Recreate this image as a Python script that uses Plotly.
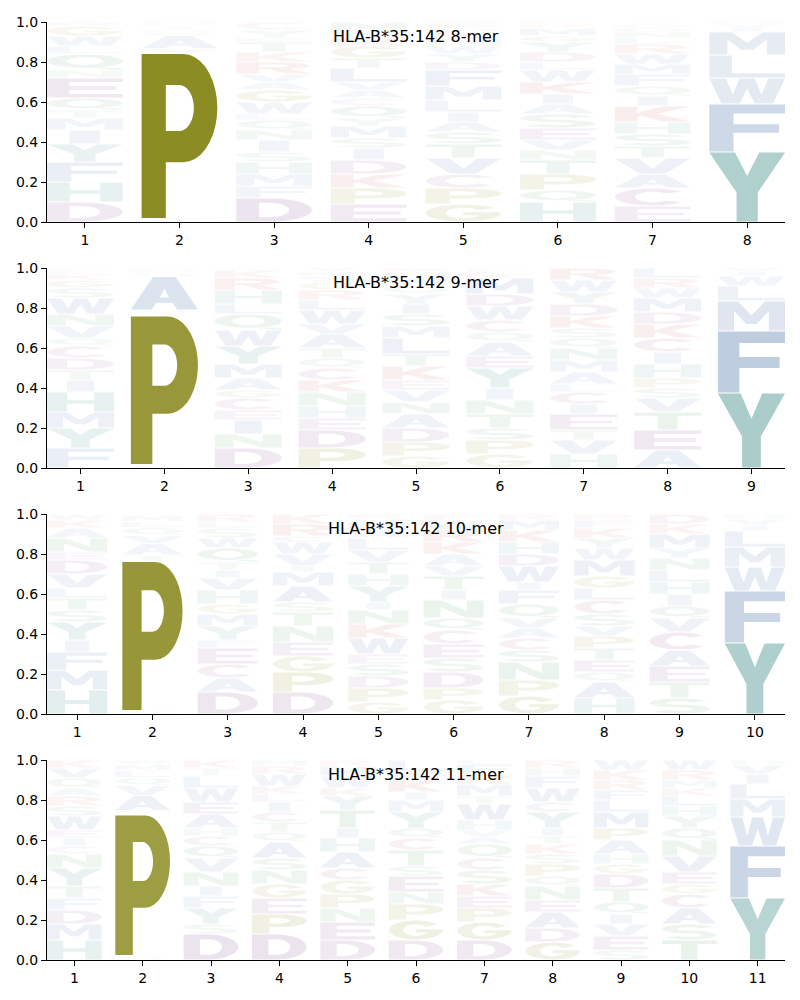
import math
import plotly.graph_objects as go

# ---------------- data (letters bottom -> top, with heights) ----------------
titles = ["HLA-B*35:142 8-mer", "HLA-B*35:142 9-mer", "HLA-B*35:142 10-mer", "HLA-B*35:142 11-mer"]

letters_8mer = ["DHFYIMTQENQLWGR", "ASPVAGSTLMK", "DFMHSINQLWGAVRKTEYC", "EPKDISMYQCAVLTGRWN",
                "GPCVTSAILMFDYWNKQRE", "HQPTNVESAIKWLDYGMRF", "ECAVTSHKIQFMWRLNDGY", "YFWLMIVH"]
heights_8mer = [
    [.10, .10, .10, .09, .07, .06, .04, .06, .10, .04, .08, .04, .05, .05, .02],
    [.01, .008, .825, .025, .065, .015, .015, .015, .01, .01, .002],
    [.12, .06, .06, .06, .05, .06, .05, .05, .03, .06, .06, .04, .04, .06, .05, .05, .02, .04, .04],
    [.09, .08, .07, .07, .06, .05, .06, .04, .06, .04, .04, .04, .07, .05, .06, .04, .03, .05],
    [.09, .08, .07, .08, .07, .06, .05, .05, .06, .07, .08, .04, .04, .04, .04, .03, .02, .02, .01],
    [.10, .06, .08, .07, .05, .05, .06, .07, .05, .05, .06, .06, .04, .05, .05, .03, .04, .02, .01],
    [.08, .09, .07, .08, .06, .06, .06, .08, .05, .05, .06, .05, .05, .05, .03, .03, .02, .02, .01],
    [.35, .24, .13, .115, .115, .025, .015, .01],
]

letters_9mer = ["FYMHITDCQVNWSGKLE", "SGPTVAQLMW", "DNIECGAMYWQLHRKT", "PDEHNKCQTAVWLRGSMY",
                "GPDANVEKTLMSIYQWHR", "GPSTNIYEAQCWDMKLR", "HVTEICLAMNQSKDYWR", "AETVSPHICKDMWRL",
                "YFMLWIV"]
heights_9mer = [
    [.10, .10, .08, .10, .06, .05, .06, .06, .04, .06, .06, .08, .05, .04, .03, .02, .01],
    [.01, .008, .742, .015, .015, .167, .015, .012, .01, .006],
    [.10, .07, .07, .05, .06, .04, .06, .07, .09, .08, .08, .05, .07, .06, .04, .01],
    [.10, .09, .06, .06, .07, .06, .06, .05, .05, .07, .05, .07, .05, .05, .04, .03, .02, .02],
    [.06, .07, .07, .07, .06, .06, .05, .07, .06, .08, .06, .06, .05, .05, .04, .04, .03, .02],
    [.07, .07, .06, .07, .07, .06, .10, .06, .07, .05, .06, .07, .06, .08, .02, .02, .01],
    [.07, .07, .05, .08, .05, .06, .04, .06, .06, .06, .05, .05, .06, .06, .06, .06, .06],
    [.09, .10, .09, .07, .05, .05, .07, .06, .07, .07, .06, .07, .05, .05, .05],
    [.375, .31, .15, .075, .05, .025, .015],
]

letters_10mer = ["HMFIYSTLVDENAKW", "SGPTAVQLMW", "DACEFYMGHVITQWSLR", "DPGENTSAMIVWCRK",
                 "GPDSEWKNIYHTVLAMQR", "GPDSECQNITVAKRWF", "GPNSCAVQFIWDHKMR", "HAQETPVSCLGMWYKFR",
                 "STEACVQIHLNYMKD", "YFWMLIVH"]
heights_10mer = [
    [.12, .10, .09, .06, .09, .06, .06, .05, .07, .07, .04, .07, .05, .04, .03],
    [.01, .007, .745, .033, .058, .04, .04, .03, .03, .007],
    [.11, .07, .07, .08, .04, .07, .06, .05, .07, .06, .04, .04, .07, .05, .05, .03, .04],
    [.11, .10, .08, .07, .08, .07, .05, .08, .07, .03, .06, .06, .03, .06, .05],
    [.06, .07, .06, .06, .05, .08, .07, .07, .04, .08, .06, .06, .06, .06, .04, .04, .02, .02],
    [.07, .06, .08, .07, .07, .07, .06, .09, .05, .07, .05, .06, .06, .06, .05, .03],
    [.09, .08, .09, .06, .06, .05, .05, .07, .07, .04, .08, .06, .06, .06, .05, .03],
    [.08, .08, .05, .06, .06, .06, .05, .06, .07, .06, .06, .08, .06, .05, .05, .04, .03],
    [.08, .08, .08, .08, .09, .07, .06, .06, .06, .06, .06, .05, .07, .05, .05],
    [.355, .26, .12, .10, .08, .03, .03, .025],
]

letters_11mer = ["HMDFTYNCIEWSRAQVK", "SGPTAVQLMW", "DSYFINVQCHAEWLTK", "DPEGNSAQTCILKWRM",
                 "DENPGCAHITYKWMR", "DGPNESTCQYMIKWL", "DGPEKSCQAVHWTMRFL", "GDAENQPSKTIYCWFHR",
                 "SEVIQTDGHAPMLFRKW", "TSACGEVNQYHLKMRW", "YFWMLIVH"]
heights_11mer = [
    [.10, .08, .07, .06, .06, .09, .07, .04, .04, .04, .07, .05, .05, .04, .05, .05, .04],
    [.012, .01, .703, .022, .075, .05, .04, .035, .03, .023],
    [.13, .05, .08, .06, .05, .07, .07, .06, .05, .04, .07, .06, .07, .06, .04, .04],
    [.13, .10, .08, .07, .07, .06, .08, .05, .05, .05, .05, .04, .04, .06, .04, .03],
    [.10, .09, .07, .07, .07, .06, .08, .07, .05, .09, .07, .04, .06, .05, .03],
    [.10, .10, .08, .06, .08, .05, .08, .06, .05, .08, .06, .04, .06, .04, .06],
    [.10, .09, .07, .06, .06, .07, .06, .07, .035, .035, .05, .08, .04, .06, .05, .05, .02],
    [.09, .07, .08, .06, .07, .05, .06, .05, .05, .04, .04, .08, .05, .07, .06, .04, .04],
    [.05, .07, .06, .05, .06, .07, .07, .05, .05, .07, .06, .08, .06, .05, .05, .05, .05],
    [.10, .08, .08, .07, .05, .06, .08, .08, .06, .06, .05, .05, .04, .04, .05, .05],
    [.31, .26, .145, .09, .075, .05, .045, .025],
]

panels = [(letters_8mer, heights_8mer), (letters_9mer, heights_9mer),
          (letters_10mer, heights_10mer), (letters_11mer, heights_11mer)]

# base colours of the residue groups
group_colors = {
    "AVILMFW": (66, 108, 166),
    "YH": (45, 131, 126),
    "PG": (124, 124, 6),
    "DE": (120, 60, 130),
    "C": (150, 70, 130),
    "NQST": (60, 150, 75),
    "KR": (200, 60, 60),
}


def base_color(ch):
    for k, v in group_colors.items():
        if ch in k:
            return v
    return (120, 120, 120)


# ---------------- glyph outlines in a unit box ----------------
def arc(cx, cy, rx, ry, a0, a1, n=18):
    return [(cx + rx * math.cos(math.radians(a0 + (a1 - a0) * i / n)),
             cy + ry * math.sin(math.radians(a0 + (a1 - a0) * i / n))) for i in range(n + 1)]


def glyph(ch):
    if ch == "A":
        return [[(0, 0), (0.33, 1), (0.67, 1), (1, 0), (0.69, 0), (0.62, 0.21), (0.38, 0.21), (0.31, 0)],
                [(0.43, 0.37), (0.57, 0.37), (0.5, 0.64)]]
    if ch == "C":
        return [arc(0.5, 0.5, 0.5, 0.5, 40, 320) + arc(0.5, 0.5, 0.23, 0.31, 320, 40)]
    if ch == "D":
        return [[(0, 0), (0, 1), (0.45, 1)] + arc(0.45, 0.5, 0.55, 0.5, 90, -90),
                [(0.3, 0.19), (0.3, 0.81), (0.45, 0.81)] + arc(0.45, 0.5, 0.25, 0.31, 90, -90)]
    if ch == "E":
        return [[(0, 0), (0, 1), (1, 1), (1, 0.81), (0.3, 0.81), (0.3, 0.59), (0.92, 0.59),
                 (0.92, 0.41), (0.3, 0.41), (0.3, 0.19), (1, 0.19), (1, 0)]]
    if ch == "F":
        return [[(0, 0), (0, 1), (1, 1), (1, 0.81), (0.32, 0.81), (0.32, 0.58), (0.92, 0.58),
                 (0.92, 0.4), (0.32, 0.4), (0.32, 0)]]
    if ch == "G":
        return [arc(0.5, 0.5, 0.5, 0.5, 35, 360) + [(1, 0.54), (0.5, 0.54), (0.5, 0.37), (0.72, 0.37)]
                + arc(0.5, 0.5, 0.23, 0.31, -27, -325)]
    if ch == "H":
        return [[(0, 0), (0, 1), (0.3, 1), (0.3, 0.59), (0.7, 0.59), (0.7, 1), (1, 1), (1, 0),
                 (0.7, 0), (0.7, 0.41), (0.3, 0.41), (0.3, 0)]]
    if ch == "I":
        return [[(0.3, 0), (0.3, 1), (0.7, 1), (0.7, 0)]]
    if ch == "K":
        return [[(0, 0), (0, 1), (0.3, 1), (0.3, 0.58), (0.64, 1), (1, 1), (0.56, 0.52), (1, 0),
                 (0.63, 0), (0.36, 0.38), (0.3, 0.32), (0.3, 0)]]
    if ch == "L":
        return [[(0, 0), (0, 1), (0.3, 1), (0.3, 0.19), (1, 0.19), (1, 0)]]
    if ch == "M":
        return [[(0, 0), (0, 1), (0.3, 1), (0.5, 0.52), (0.7, 1), (1, 1), (1, 0), (0.76, 0),
                 (0.76, 0.68), (0.58, 0.22), (0.42, 0.22), (0.24, 0.68), (0.24, 0)]]
    if ch == "N":
        return [[(0, 0), (0, 1), (0.3, 1), (0.72, 0.38), (0.72, 1), (1, 1), (1, 0), (0.7, 0),
                 (0.28, 0.62), (0.28, 0)]]
    if ch == "P":
        return [[(0, 0), (0, 1), (0.55, 1)] + arc(0.55, 0.67, 0.45, 0.33, 90, -90) + [(0.32, 0.34), (0.32, 0)],
                [(0.32, 0.53), (0.32, 0.81), (0.5, 0.81)] + arc(0.5, 0.67, 0.19, 0.14, 90, -90)]
    if ch == "Q":
        return [arc(0.5, 0.56, 0.5, 0.44, 0, 360, 32), arc(0.5, 0.56, 0.24, 0.27, 0, 360, 32),
                [(0.62, 0.1), (0.85, 0.0), (1.0, 0.0), (1.0, 0.08), (0.8, 0.14)]]
    if ch == "R":
        return [[(0, 0), (0, 1), (0.55, 1)] + arc(0.55, 0.71, 0.42, 0.29, 90, -70)
                + [(1, 0), (0.67, 0), (0.42, 0.42), (0.3, 0.42), (0.3, 0)],
                [(0.3, 0.57), (0.3, 0.82), (0.52, 0.82)] + arc(0.52, 0.695, 0.17, 0.125, 90, -90)]
    if ch == "S":
        return [arc(0.5, 0.705, 0.5, 0.295, 25, 270) + arc(0.5, 0.295, 0.22, 0.115, 90, -150)
                + arc(0.5, 0.295, 0.5, 0.295, -150, 90) + arc(0.5, 0.705, 0.22, 0.115, 270, 25)]
    if ch == "T":
        return [[(0, 0.81), (0, 1), (1, 1), (1, 0.81), (0.65, 0.81), (0.65, 0), (0.35, 0), (0.35, 0.81)]]
    if ch == "V":
        return [[(0, 1), (0.32, 1), (0.5, 0.32), (0.68, 1), (1, 1), (0.67, 0), (0.33, 0)]]
    if ch == "W":
        return [[(0, 1), (0.22, 1), (0.31, 0.35), (0.4, 1), (0.6, 1), (0.69, 0.35), (0.78, 1), (1, 1),
                 (0.84, 0), (0.6, 0), (0.5, 0.6), (0.4, 0), (0.16, 0)]]
    if ch == "Y":
        return [[(0, 1), (0.34, 1), (0.5, 0.66), (0.66, 1), (1, 1), (0.64, 0.42), (0.64, 0),
                 (0.36, 0), (0.36, 0.42)]]
    return [[(0, 0), (0, 1), (1, 1), (1, 0)]]


# ---------------- figure ----------------
W_LETTER = 0.8
fig = go.Figure()
shapes = []
annotations = []
layout = {}

top_px, plot_h, step_px = 22, 200, 246
area_bottom, area_h = 961, 939

for k, (letters, heights) in enumerate(panels):
    n = len(letters)
    xa = "x" if k == 0 else f"x{k + 1}"
    ya = "y" if k == 0 else f"y{k + 1}"
    t_px = top_px + step_px * k
    b_px = t_px + plot_h
    dom = [(area_bottom - b_px) / area_h, (area_bottom - t_px) / area_h]

    axis_common = dict(showline=True, linecolor="black", linewidth=1, ticks="outside", ticklen=5,
                       tickwidth=1, tickcolor="black", showgrid=False, zeroline=False,
                       tickfont=dict(family="DejaVu Sans", size=14, color="black"), mirror=False)
    layout["xaxis" if k == 0 else f"xaxis{k + 1}"] = dict(
        axis_common, domain=[0, 1], anchor=ya, range=[1 - W_LETTER / 2, n + W_LETTER / 2],
        tickmode="array", tickvals=list(range(1, n + 1)), ticktext=[str(i) for i in range(1, n + 1)])
    layout["yaxis" if k == 0 else f"yaxis{k + 1}"] = dict(
        axis_common, domain=dom, anchor=xa, range=[0, 1], tickmode="array",
        tickvals=[0, 0.2, 0.4, 0.6, 0.8, 1.0], ticktext=["0.0", "0.2", "0.4", "0.6", "0.8", "1.0"])

    fig.add_trace(go.Scatter(x=list(range(1, n + 1)), y=[0] * n, mode="markers",
                             marker=dict(opacity=0), hoverinfo="skip", showlegend=False,
                             xaxis=xa, yaxis=ya))

    for j in range(n):
        pos = j + 1
        y = 0.0
        for ch, h in zip(letters[j], heights[j]):
            pad = min(0.0025, 0.1 * h)
            y0 = y + pad
            hh = h - 2 * pad
            parts = []
            for sub in glyph(ch):
                pts = [(pos - W_LETTER / 2 + W_LETTER * u, y0 + hh * v) for u, v in sub]
                parts.append("M" + "L".join(f"{px:.4f},{py:.5f}" for px, py in pts) + "Z")
            r, g, b = base_color(ch)
            alpha = min(1.0, 0.01 + 1.05 * h)
            shapes.append(dict(type="path", path="".join(parts), xref=xa, yref=ya,
                               fillcolor=f"rgba({r},{g},{b},{alpha:.3f})", line=dict(width=0),
                               layer="above"))
            y += h

    annotations.append(dict(text=titles[k], xref=f"{xa} domain", x=0.5, yref=ya, y=0.928,
                            xanchor="center", yanchor="middle", showarrow=False,
                            font=dict(family="DejaVu Sans", size=16, color="black")))

fig.update_layout(**layout)
fig.update_layout(width=800, height=1000, margin=dict(l=47, r=15, t=22, b=39),
                  paper_bgcolor="white", plot_bgcolor="white", showlegend=False,
                  shapes=shapes, annotations=annotations)
fig.write_html("out.html")
